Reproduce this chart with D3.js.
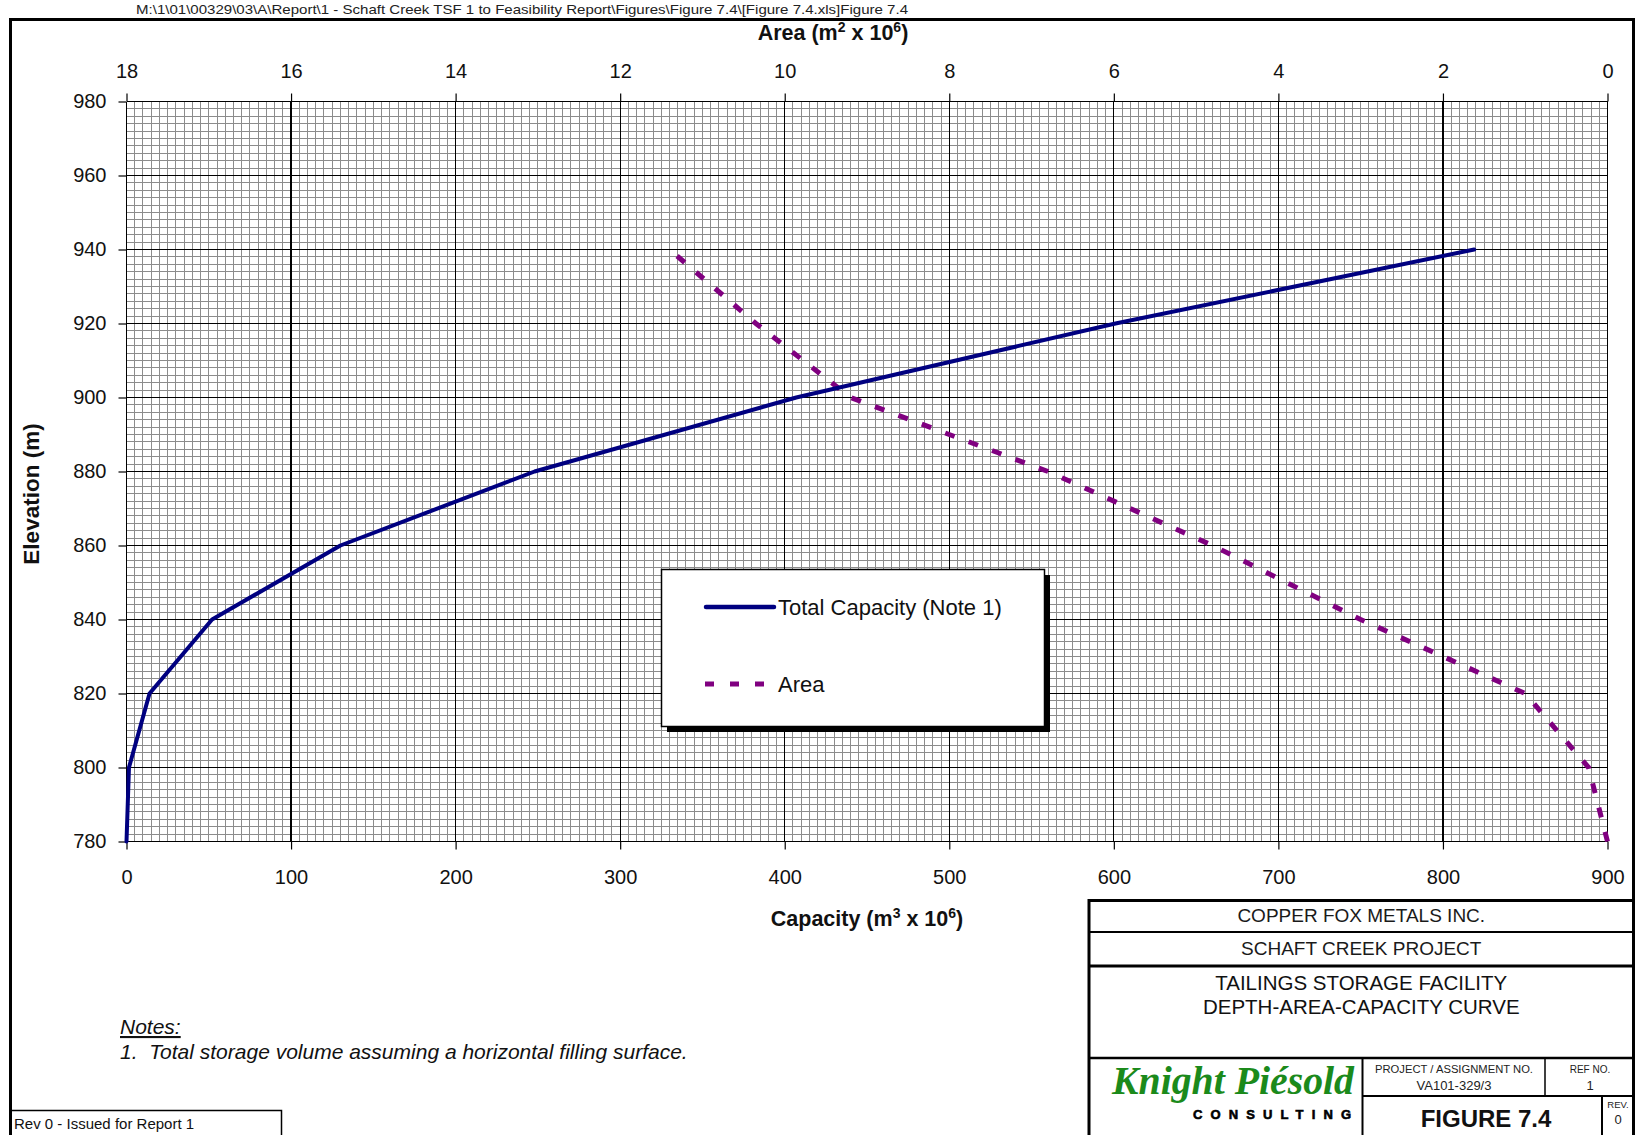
<!DOCTYPE html>
<html>
<head>
<meta charset="utf-8">
<script src="https://cdn.jsdelivr.net/npm/d3@7"></script>
<style>
  html, body { margin: 0; padding: 0; background: #fff; }
  svg { display: block; font-family: "Liberation Sans", Arial, sans-serif; }
</style>
</head>
<body>
<svg id="chart" width="1637" height="1135"></svg>
<script>
// ---------- data ----------
const elevations   = [780, 800, 820, 840, 860, 880, 900, 920, 940];          // m
const capacity     = [0, 1.5, 14, 52, 130, 248, 407, 601, 819];             // m3 x 10^6
const area         = [0, 0.23, 1.0, 3.0, 4.8, 6.8, 9.2, 10.35, 11.4];      // m2 x 10^6
const capacityTicks  = [0, 100, 200, 300, 400, 500, 600, 700, 800, 900];
const areaTicks      = [18, 16, 14, 12, 10, 8, 6, 4, 2, 0];
const elevationTicks = [780, 800, 820, 840, 860, 880, 900, 920, 940, 960, 980];
const seriesNames  = ["Total Capacity (Note 1)", "Area"];

(function () {
// ---------- setup ----------
const svg = d3.select("#chart");
const W = 1637, H = 1135;
const pL = 126.5, pR = 1607.5, pT = 101.5, pB = 841.5;

const x  = d3.scaleLinear().domain([0, 900]).range([pL, pR]);
const xa = d3.scaleLinear().domain([18, 0]).range([pL, pR]);
const y  = d3.scaleLinear().domain([780, 980]).range([pB, pT]);

// header path text
svg.append("text").attr("x", 136).attr("y", 14).attr("font-size", 13).attr("fill", "#222")
  .attr("textLength", 772).attr("lengthAdjust", "spacingAndGlyphs")
  .text("M:\\1\\01\\00329\\03\\A\\Report\\1 - Schaft Creek TSF 1 to Feasibility Report\\Figures\\Figure 7.4\\[Figure 7.4.xls]Figure 7.4");

// page frame
svg.append("path")
  .attr("d", `M10.5,${H} V19.5 H1633.5 V${H}`)
  .attr("fill", "none").attr("stroke", "#000").attr("stroke-width", 3);

// ---------- grid ----------
const grid = svg.append("g").attr("shape-rendering", "crispEdges");
const minorX = d3.range(0, 900.01, 5).filter(v => v % 100 !== 0);
const minorY = d3.range(780, 980.01, 2).filter(v => v % 20 !== 0);
grid.selectAll(".mx").data(minorX).join("line")
  .attr("x1", d => x(d)).attr("x2", d => x(d)).attr("y1", pT).attr("y2", pB)
  .attr("stroke", "#8c8c8c").attr("stroke-width", 1);
grid.selectAll(".my").data(minorY).join("line")
  .attr("y1", d => y(d)).attr("y2", d => y(d)).attr("x1", pL).attr("x2", pR)
  .attr("stroke", "#8c8c8c").attr("stroke-width", 1);
grid.selectAll(".Mx").data(capacityTicks).join("line")
  .attr("x1", d => x(d)).attr("x2", d => x(d)).attr("y1", pT).attr("y2", pB)
  .attr("stroke", "#000").attr("stroke-width", 1.2);
grid.selectAll(".My").data(elevationTicks).join("line")
  .attr("y1", d => y(d)).attr("y2", d => y(d)).attr("x1", pL).attr("x2", pR)
  .attr("stroke", "#000").attr("stroke-width", 1.2);

// ---------- axes ----------
function styleAxis(g) {
  g.select(".domain").remove();
  g.selectAll(".tick line").attr("stroke", "#000").attr("stroke-width", 1.2);
  g.selectAll(".tick text").attr("font-size", 20).attr("fill", "#111")
    .attr("font-family", "Liberation Sans, Arial, sans-serif");
}
svg.append("g").attr("transform", `translate(0,${pB})`)
  .call(d3.axisBottom(x).tickValues(capacityTicks).tickSize(8).tickPadding(20).tickFormat(d3.format("d")))
  .call(styleAxis);
svg.append("g").attr("transform", `translate(0,${pT})`)
  .call(d3.axisTop(xa).tickValues(areaTicks).tickSize(8).tickPadding(16).tickFormat(d3.format("d")))
  .call(styleAxis);
svg.append("g").attr("transform", `translate(${pL},0)`)
  .call(d3.axisLeft(y).tickValues(elevationTicks).tickSize(8).tickPadding(12).tickFormat(d3.format("d")))
  .call(styleAxis);

// axis titles
const tArea = svg.append("text").attr("x", 833).attr("y", 40).attr("text-anchor", "middle")
  .attr("font-size", 21.5).attr("font-weight", "bold").attr("fill", "#111");
tArea.append("tspan").text("Area (m");
tArea.append("tspan").attr("dy", -8).attr("font-size", 14).text("2");
tArea.append("tspan").attr("dy", 8).text(" x 10");
tArea.append("tspan").attr("dy", -8).attr("font-size", 14).text("6");
tArea.append("tspan").attr("dy", 8).text(")");

const tCap = svg.append("text").attr("x", 867).attr("y", 926).attr("text-anchor", "middle")
  .attr("font-size", 21.5).attr("font-weight", "bold").attr("fill", "#111");
tCap.append("tspan").text("Capacity (m");
tCap.append("tspan").attr("dy", -8).attr("font-size", 14).text("3");
tCap.append("tspan").attr("dy", 8).text(" x 10");
tCap.append("tspan").attr("dy", -8).attr("font-size", 14).text("6");
tCap.append("tspan").attr("dy", 8).text(")");

svg.append("text").attr("transform", "translate(39,494) rotate(-90)").attr("text-anchor", "middle")
  .attr("font-size", 22.5).attr("font-weight", "bold").attr("fill", "#111").text("Elevation (m)");

// ---------- series ----------
const capData  = elevations.map((e, i) => ({e, v: capacity[i]}));
const areaData = elevations.map((e, i) => ({e, v: area[i]}));

svg.append("path").datum(areaData)
  .attr("d", d3.line().x(d => xa(d.v)).y(d => y(d.e)))
  .attr("fill", "none").attr("stroke", "#800080").attr("stroke-width", 5)
  .attr("stroke-dasharray", "10,15");

svg.append("path").datum(capData)
  .attr("d", d3.line().x(d => x(d.v)).y(d => y(d.e)))
  .attr("fill", "none").attr("stroke", "#000080").attr("stroke-width", 4)
  .attr("stroke-linejoin", "round").attr("stroke-linecap", "round");

// ---------- legend ----------
const lg = svg.append("g");
lg.append("rect").attr("x", 667).attr("y", 575).attr("width", 383).attr("height", 157).attr("fill", "#000");
lg.append("rect").attr("x", 661.5).attr("y", 569.5).attr("width", 383).attr("height", 157)
  .attr("fill", "#fff").attr("stroke", "#000").attr("stroke-width", 1.5);
lg.append("line").attr("x1", 706).attr("x2", 774).attr("y1", 607).attr("y2", 607)
  .attr("stroke", "#000080").attr("stroke-width", 4.5).attr("stroke-linecap", "round");
lg.append("line").attr("x1", 705).attr("x2", 766).attr("y1", 684).attr("y2", 684)
  .attr("stroke", "#800080").attr("stroke-width", 5).attr("stroke-dasharray", "9,16");
lg.append("text").attr("x", 778).attr("y", 615).attr("font-size", 22).attr("fill", "#111").text(seriesNames[0]);
lg.append("text").attr("x", 778).attr("y", 692).attr("font-size", 22).attr("fill", "#111").text(seriesNames[1]);

// ---------- notes ----------
const notes = svg.append("g").attr("font-style", "italic").attr("fill", "#111").attr("font-size", 21);
notes.append("text").attr("x", 120).attr("y", 1034).attr("text-decoration", "underline").text("Notes:");
notes.append("text").attr("x", 120).attr("y", 1059).attr("xml:space", "preserve")
  .text("1.  Total storage volume assuming a horizontal filling surface.");

// rev box
svg.append("path").attr("d", "M10.5,1110.5 H281.5 V1135")
  .attr("fill", "none").attr("stroke", "#000").attr("stroke-width", 1.5);
svg.append("text").attr("x", 14).attr("y", 1129).attr("font-size", 15).attr("fill", "#111")
  .text("Rev 0 - Issued for Report 1");

// ---------- title block ----------
const tb = svg.append("g");
const bx0 = 1089, bx1 = 1633.5;
tb.append("path").attr("d", `M${bx0},${H} V900.5 H${bx1}`).attr("fill", "none").attr("stroke", "#000").attr("stroke-width", 3);
[[932, 2], [966, 3], [1058, 2.5]].forEach(([yy, w]) =>
  tb.append("line").attr("x1", bx0).attr("x2", bx1).attr("y1", yy).attr("y2", yy).attr("stroke", "#000").attr("stroke-width", w));
tb.append("line").attr("x1", 1362.5).attr("x2", 1362.5).attr("y1", 1058).attr("y2", H).attr("stroke", "#000").attr("stroke-width", 2);
tb.append("line").attr("x1", 1362.5).attr("x2", bx1).attr("y1", 1096).attr("y2", 1096).attr("stroke", "#000").attr("stroke-width", 2);
tb.append("line").attr("x1", 1545).attr("x2", 1545).attr("y1", 1058).attr("y2", 1096).attr("stroke", "#000").attr("stroke-width", 1.5);
tb.append("line").attr("x1", 1602).attr("x2", 1602).attr("y1", 1096).attr("y2", H).attr("stroke", "#000").attr("stroke-width", 2);

const cx = (bx0 + bx1) / 2;
tb.append("text").attr("x", cx).attr("y", 922).attr("text-anchor", "middle").attr("font-size", 19).attr("fill", "#1a1a1a").text("COPPER FOX METALS INC.");
tb.append("text").attr("x", cx).attr("y", 955).attr("text-anchor", "middle").attr("font-size", 19).attr("fill", "#1a1a1a").text("SCHAFT CREEK PROJECT");
tb.append("text").attr("x", cx).attr("y", 990).attr("text-anchor", "middle").attr("font-size", 20.5).attr("fill", "#111").text("TAILINGS STORAGE FACILITY");
tb.append("text").attr("x", cx).attr("y", 1014).attr("text-anchor", "middle").attr("font-size", 20.5).attr("fill", "#111").text("DEPTH-AREA-CAPACITY CURVE");

tb.append("text").attr("x", 1233).attr("y", 1094).attr("text-anchor", "middle")
  .attr("font-family", "Liberation Serif, Times New Roman, serif").attr("font-style", "italic").attr("font-weight", "bold")
  .attr("font-size", 39).attr("fill", "#1b8a1b").attr("textLength", 242).attr("lengthAdjust", "spacingAndGlyphs")
  .text("Knight Piésold");
tb.append("text").attr("x", 1193).attr("y", 1119).attr("font-size", 13).attr("font-weight", "900").attr("fill", "#000")
  .attr("stroke", "#000").attr("stroke-width", 0.6)
  .attr("textLength", 158).attr("lengthAdjust", "spacing").text("CONSULTING");

tb.append("text").attr("x", 1454).attr("y", 1073).attr("text-anchor", "middle").attr("font-size", 10).attr("fill", "#222")
  .attr("textLength", 158).attr("lengthAdjust", "spacingAndGlyphs").text("PROJECT / ASSIGNMENT NO.");
tb.append("text").attr("x", 1454).attr("y", 1090).attr("text-anchor", "middle").attr("font-size", 13).attr("fill", "#222").text("VA101-329/3");
tb.append("text").attr("x", 1590).attr("y", 1073).attr("text-anchor", "middle").attr("font-size", 10).attr("fill", "#222").text("REF NO.");
tb.append("text").attr("x", 1590).attr("y", 1090).attr("text-anchor", "middle").attr("font-size", 13).attr("fill", "#222").text("1");
tb.append("text").attr("x", 1486).attr("y", 1127).attr("text-anchor", "middle").attr("font-size", 24).attr("font-weight", "bold").attr("fill", "#111").text("FIGURE 7.4");
tb.append("text").attr("x", 1618).attr("y", 1108).attr("text-anchor", "middle").attr("font-size", 9.5).attr("fill", "#222").text("REV.");
tb.append("text").attr("x", 1618).attr("y", 1124).attr("text-anchor", "middle").attr("font-size", 13).attr("fill", "#222").text("0");
})();
</script>
</body>
</html>
